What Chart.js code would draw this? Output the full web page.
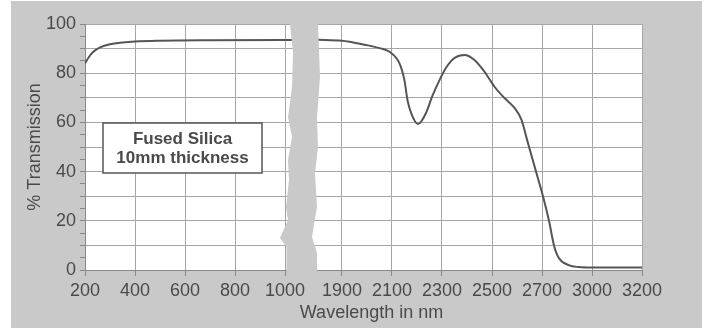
<!DOCTYPE html>
<html lang="en">
<head>
<meta charset="UTF-8" />
<title>Fused Silica Transmission</title>
<script src="https://cdn.jsdelivr.net/npm/chart.js"></script>
<style>
    html, body { margin: 0; padding: 0; background: #fff; }
    #wrap { width: 706px; height: 330px; }
</style>
</head>
<body>
<div id="wrap"><canvas id="chart"></canvas></div>
<script>
    // wavelength ticks either side of the axis break (nm)
    const leftTicks = [200, 400, 600, 800, 1000];
    const rightTicks = [1900, 2100, 2300, 2500, 2700, 3000, 3200];
    const yLabelStep = 20;

    // UV / visible part
    const leftWavelength = [200, 215, 232, 260, 300, 350, 400, 500, 700, 1000, 1040];
    const leftTransmission = [84, 86.5, 88.6, 90.5, 91.8, 92.5, 92.9, 93.2, 93.4, 93.5, 93.5];

    // near IR part
    const rightWavelength = [1800, 1900, 1930, 1990, 2050, 2090, 2130, 2150, 2162, 2177, 2204, 2236, 2260, 2290, 2318,
        2350, 2390, 2430, 2470, 2510, 2550, 2590, 2618, 2640, 2676, 2706, 2742, 2772, 2800, 2860, 2920, 3000, 3200];
    const rightTransmission = [93.6, 93.2, 92.8, 91.6, 90.2, 88.7, 84, 77, 69, 63.7, 59.3, 63.8, 70.4, 77.2, 82.5,
        86.2, 87.4, 85.4, 80.6, 74.5, 69.9, 65.9, 61, 53, 40, 30, 20, 10, 5, 2, 1.2, 1, 1];

    const textColor = '#4a4a4a';
    const gridColor = '#a6a6a6';
    const fontFamily = '"Liberation Sans", Arial, sans-serif';

    // axis is evenly spaced per tick, with a gap at the break
    const BREAK_GAP = 1.14;
    const leftPos = leftTicks.map((_, i) => i);
    const rightPos = rightTicks.map((_, i) => leftTicks.length - 1 + BREAK_GAP + i);
    const posMax = rightPos[rightPos.length - 1];

    function interp(v, knots, pos) {
        let i = 0;
        while (i < knots.length - 2 && v > knots[i + 1]) i++;
        return pos[i] + (v - knots[i]) / (knots[i + 1] - knots[i]) * (pos[i + 1] - pos[i]);
    }

    function toPos(v) {
        const mid = (leftTicks[leftTicks.length - 1] + rightTicks[0]) / 2;
        return v < mid ? interp(v, leftTicks, leftPos) : interp(v, rightTicks, rightPos);
    }

    class BrokenScale extends Chart.LinearScale {
        buildTicks() {
            return leftTicks.concat(rightTicks).map(v => ({ value: v }));
        }
        getPixelForValue(v) {
            return this.getPixelForDecimal(toPos(v) / posMax);
        }
    }
    BrokenScale.id = 'broken';
    BrokenScale.defaults = Chart.LinearScale.defaults;
    Chart.register(BrokenScale);

    const paper = {
        id: 'paper',
        beforeDraw(chart) {
            const { ctx, chartArea: a } = chart;
            ctx.save();
            ctx.fillStyle = '#c9c9c9';
            ctx.fillRect(11, 1, 691, 327);
            ctx.fillStyle = '#fff';
            ctx.fillRect(a.left, a.top, a.right - a.left, a.bottom - a.top);
            ctx.restore();
        },
        afterDatasetsDraw(chart) {
            const { ctx, chartArea: a } = chart;
            const x0 = chart.scales.x.getPixelForValue(leftTicks[leftTicks.length - 1]);
            const h = a.bottom - a.top;
            // zigzag break band: [dx, fraction of height]
            const leftEdge = [[5, 0], [8, 0.118], [7, 0.256], [3, 0.378], [7, 0.459], [3, 0.553], [4, 0.634],
                [1, 0.744], [3, 0.797], [-5, 0.87], [1.5, 0.906], [1.5, 1]];
            const rightEdge = [[32, 1], [32, 0.931], [27, 0.866], [32, 0.744], [30, 0.606], [33, 0.5],
                [32, 0.378], [35, 0.215], [33, 0]];
            ctx.save();
            ctx.fillStyle = '#c9c9c9';
            ctx.beginPath();
            ctx.moveTo(x0 + leftEdge[0][0], a.top - 2);
            leftEdge.forEach(([dx, f]) => ctx.lineTo(x0 + dx, a.top + f * h));
            ctx.lineTo(x0 + 1.5, a.bottom + 1.5);
            ctx.lineTo(x0 + 32, a.bottom + 1.5);
            rightEdge.forEach(([dx, f]) => ctx.lineTo(x0 + dx, a.top + f * h));
            ctx.lineTo(x0 + 33, a.top - 2);
            ctx.closePath();
            ctx.fill();

            // label box
            const bx = a.left + 18, by = a.top + 99, bw = 159, bh = 50;
            ctx.fillStyle = '#fff';
            ctx.fillRect(bx, by, bw, bh);
            ctx.strokeStyle = '#555';
            ctx.lineWidth = 1.5;
            ctx.strokeRect(bx, by, bw, bh);
            ctx.fillStyle = textColor;
            ctx.font = 'bold 17px ' + fontFamily;
            ctx.textAlign = 'center';
            ctx.textBaseline = 'middle';
            ctx.fillText('Fused Silica', bx + bw / 2, by + 16);
            ctx.fillText('10mm thickness', bx + bw / 2, by + 35);
            ctx.restore();
        },
        afterDraw(chart) {
            const { ctx, chartArea: a } = chart;
            ctx.save();
            ctx.fillStyle = textColor;
            ctx.font = '18px ' + fontFamily;
            ctx.textAlign = 'center';
            ctx.textBaseline = 'middle';
            ctx.fillText('Wavelength in nm', (a.left + a.right) / 2 + 8, 313);
            ctx.restore();
        }
    };

    new Chart(document.getElementById('chart').getContext('2d'), {
        type: 'line',
        data: {
            datasets: [
                {
                    data: leftWavelength.map((w, i) => ({ x: w, y: leftTransmission[i] })),
                },
                {
                    data: rightWavelength.map((w, i) => ({ x: w, y: rightTransmission[i] })),
                }
            ].map(d => Object.assign(d, {
                borderColor: '#555',
                borderWidth: 2,
                pointRadius: 0,
                cubicInterpolationMode: 'monotone',
                fill: false
            }))
        },
        options: {
            responsive: true,
            maintainAspectRatio: false,
            animation: false,
            layout: { padding: { left: 0, right: 64, top: 24, bottom: 0 } },
            plugins: { legend: { display: false }, tooltip: { enabled: false } },
            scales: {
                x: {
                    type: 'broken',
                    min: 200,
                    max: 3200,
                    grid: { color: gridColor, tickColor: '#888', tickLength: 6 },
                    border: { color: '#888' },
                    ticks: {
                        autoSkip: false,
                        maxRotation: 0,
                        padding: 4,
                        color: textColor,
                        font: { family: fontFamily, size: 18 },
                        callback: v => String(v)
                    },
                    afterFit: s => { s.height = 60; }
                },
                y: {
                    min: 0,
                    max: 100,
                    grid: {
                        color: c => (c.tick && c.tick.value % 10 === 0) ? gridColor : 'rgba(0,0,0,0)',
                        tickColor: '#888',
                        tickLength: 5
                    },
                    border: { color: '#888' },
                    ticks: {
                        stepSize: 5,
                        autoSkip: false,
                        padding: 4,
                        color: textColor,
                        font: { family: fontFamily, size: 18 },
                        callback: v => v % yLabelStep === 0 ? v : ''
                    },
                    title: {
                        display: true,
                        text: '% Transmission',
                        color: textColor,
                        font: { family: fontFamily, size: 18 },
                        padding: { top: 24, bottom: 0 }
                    },
                    afterFit: s => { s.width = 85; }
                }
            }
        },
        plugins: [paper]
    });
</script>
</body>
</html>
